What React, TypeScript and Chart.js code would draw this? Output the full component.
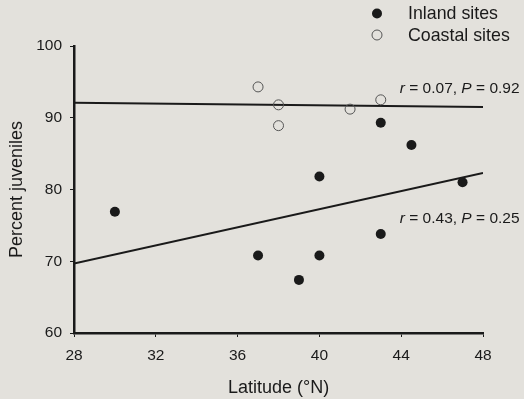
import React, { useEffect, useRef } from "react";
import { Chart, registerables } from "chart.js";

Chart.register(...registerables);

// ---- data ----
const inlandLat = [30, 37, 39, 40, 40, 43, 43, 44.5, 47];
const inlandPct = [76.9, 70.8, 67.4, 70.8, 81.8, 73.8, 89.3, 86.2, 81.0];
const coastalLat = [37, 38, 38, 41.5, 43];
const coastalPct = [94.3, 91.8, 88.9, 91.2, 92.5];
const fitLat = [28, 48];
const inlandFit = [69.7, 82.3];
const coastalFit = [92.1, 91.5];
const xTicks = [28, 32, 36, 40, 44, 48];
const yTicks = [60, 70, 80, 90, 100];
const legendLabels = ["Inland sites", "Coastal sites"];
const statR = ["0.07", "0.43"];
const statP = ["0.92", "0.25"];
const statLat = [43.93, 43.93];
const statPct = [94.1, 75.9];

const FONT = "'Liberation Sans', Arial, Helvetica, sans-serif";
const BG = "#e3e1dc";
const INK = "#1a1a1a";

const overlay = {
  id: "overlay",
  beforeDraw(chart: any) {
    const { ctx, width, height } = chart;
    ctx.save();
    ctx.fillStyle = BG;
    ctx.fillRect(0, 0, width, height);
    ctx.restore();
  },
  afterDraw(chart: any) {
    const { ctx } = chart;
    const xs = chart.scales.x;
    const ys = chart.scales.y;
    ctx.save();
    // legend
    const lx = 377;
    const lys = [13.5, 35];
    ctx.font = `17.8px ${FONT}`;
    ctx.textBaseline = "middle";
    ctx.textAlign = "left";
    legendLabels.forEach((lab, i) => {
      ctx.beginPath();
      ctx.arc(lx, lys[i], 5, 0, Math.PI * 2);
      if (i === 0) {
        ctx.fillStyle = INK;
        ctx.fill();
      } else {
        ctx.strokeStyle = "#555";
        ctx.lineWidth = 1;
        ctx.stroke();
      }
      ctx.fillStyle = INK;
      ctx.fillText(lab, 408, lys[i] + 1);
    });
    // stats annotations
    statR.forEach((r, i) => {
      let x = xs.getPixelForValue(statLat[i]);
      const y = ys.getPixelForValue(statPct[i]);
      const parts: [string, boolean][] = [
        ["r", true],
        [` = ${r}, `, false],
        ["P", true],
        [` = ${statP[i]}`, false],
      ];
      parts.forEach(([t, it]) => {
        ctx.font = `${it ? "italic " : ""}15.5px ${FONT}`;
        ctx.fillStyle = INK;
        ctx.fillText(t, x, y);
        x += ctx.measureText(t).width;
      });
    });
    ctx.restore();
  },
};

export default function App() {
  const ref = useRef<HTMLCanvasElement | null>(null);
  useEffect(() => {
    document.body.style.margin = "0";
    const canvas = ref.current!;
    const chart = new Chart(canvas, {
      type: "scatter",
      data: {
        datasets: [
          {
            label: "Inland sites",
            data: inlandLat.map((x, i) => ({ x, y: inlandPct[i] })),
            pointRadius: 5,
            pointBackgroundColor: INK,
            pointBorderColor: INK,
            pointBorderWidth: 0,
          },
          {
            label: "Coastal sites",
            data: coastalLat.map((x, i) => ({ x, y: coastalPct[i] })),
            pointRadius: 5,
            pointBackgroundColor: "rgba(0,0,0,0)",
            pointBorderColor: "#555",
            pointBorderWidth: 1,
          },
          {
            type: "line",
            label: "Inland fit",
            data: fitLat.map((x, i) => ({ x, y: inlandFit[i] })),
            showLine: true,
            pointRadius: 0,
            borderColor: INK,
            borderWidth: 2,
          },
          {
            type: "line",
            label: "Coastal fit",
            data: fitLat.map((x, i) => ({ x, y: coastalFit[i] })),
            showLine: true,
            pointRadius: 0,
            borderColor: INK,
            borderWidth: 2,
          },
        ] as any,
      },
      options: {
        animation: false,
        responsive: false,
        devicePixelRatio: 1,
        layout: { padding: { top: 46, right: 41, bottom: 0, left: 0 } },
        plugins: { legend: { display: false }, tooltip: { enabled: false } },
        scales: {
          x: {
            type: "linear",
            min: 28,
            max: 48,
            afterBuildTicks: (s: any) => {
              s.ticks = xTicks.map((v) => ({ value: v }));
            },
            afterFit: (s: any) => {
              s.height = 66;
            },
            ticks: { color: INK, font: { family: FONT, size: 15.5 }, padding: 9 },
            border: { color: INK, width: 2.5 },
            grid: { drawOnChartArea: false, drawTicks: true, tickLength: 4, color: INK },
            title: {
              display: true,
              text: "Latitude (°N)",
              color: INK,
              font: { family: FONT, size: 18 },
              padding: { top: 0, bottom: 0 },
            },
          },
          y: {
            type: "linear",
            min: 60,
            max: 100,
            afterBuildTicks: (s: any) => {
              s.ticks = yTicks.map((v) => ({ value: v }));
            },
            afterFit: (s: any) => {
              s.width = 74;
            },
            ticks: { color: INK, font: { family: FONT, size: 15.5 }, padding: 8 },
            border: { color: INK, width: 2.5 },
            grid: { drawOnChartArea: false, drawTicks: true, tickLength: 4, color: INK },
            title: {
              display: true,
              text: "Percent juveniles",
              color: INK,
              font: { family: FONT, size: 18 },
              padding: { top: 6, bottom: 0 },
            },
          },
        },
      },
      plugins: [overlay],
    });
    return () => chart.destroy();
  }, []);
  return (
    <div style={{ position: "fixed", left: 0, top: 0, width: 524, height: 399, background: BG }}>
      <canvas ref={ref} width={524} height={399} style={{ display: "block" }} />
    </div>
  );
}
